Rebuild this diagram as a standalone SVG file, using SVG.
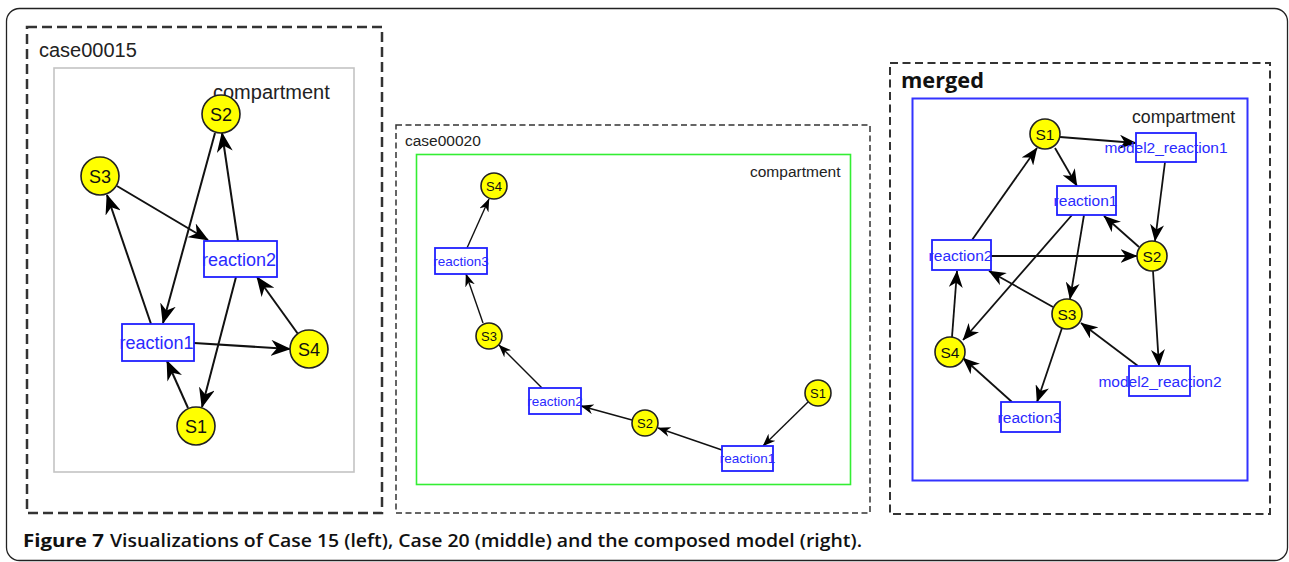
<svg xmlns="http://www.w3.org/2000/svg" width="1289" height="562" viewBox="0 0 1289 562">
<style>
.frame{fill:none;stroke:#222;stroke-width:1.3}
.dashL{fill:none;stroke:#333;stroke-width:2.5;stroke-dasharray:10 5}
.dashM{fill:none;stroke:#333;stroke-width:1.5;stroke-dasharray:6 3.5}
.dashR{fill:none;stroke:#333;stroke-width:2;stroke-dasharray:8 4.5}
.sp{fill:#ffff00;stroke:#222;stroke-width:1.6}
.rx{fill:#fff;stroke:#2020ff;stroke-width:1.8}
.lbl{font-family:"Liberation Sans",Arial,sans-serif;text-anchor:middle;fill:#111}
.rl{font-family:"Liberation Sans",Arial,sans-serif;text-anchor:middle;fill:#2a2aff}
.ttl{font-family:"Liberation Sans",Arial,sans-serif;fill:#222}
.eL{stroke:#111;stroke-width:2;fill:none;marker-end:url(#ahL)}
.eM{stroke:#111;stroke-width:1.4;fill:none;marker-end:url(#ahS)}
.eR{stroke:#111;stroke-width:1.8;fill:none;marker-end:url(#ahM)}
</style>
<defs>
<marker id="ahL" markerUnits="userSpaceOnUse" markerWidth="20" markerHeight="16" viewBox="0 0 20 16" refX="19" refY="8" orient="auto"><path d="M0,0 L20,8 L0,16 L6,8 z" fill="#000"/></marker>
<marker id="ahS" markerUnits="userSpaceOnUse" markerWidth="13" markerHeight="10" viewBox="0 0 13 10" refX="12.5" refY="5" orient="auto"><path d="M0,0 L13,5 L0,10 L4,5 z" fill="#000"/></marker>
<marker id="ahM" markerUnits="userSpaceOnUse" markerWidth="17" markerHeight="14" viewBox="0 0 17 14" refX="16.5" refY="7" orient="auto"><path d="M0,0 L17,7 L0,14 L5,7 z" fill="#000"/></marker>
</defs>
<rect width="1289" height="562" fill="#fff"/>
<rect class="frame" x="6.5" y="8.5" width="1281" height="552" rx="13"/>

<!-- Left panel -->
<g id="panel-case15">
<rect class="dashL" x="27" y="27" width="355" height="486"/>
<text class="ttl" x="39" y="57" font-size="20">case00015</text>
<rect x="54" y="68" width="300" height="404" fill="none" stroke="#c4c4c4" stroke-width="1.6"/>
<text class="ttl" x="213" y="99" font-size="20" fill="#111">compartment</text>
</g>
<g id="connectors-case15">
<line class="eL" x1="215" y1="133" x2="163" y2="323"/>
<line class="eL" x1="238" y1="241" x2="222" y2="133"/>
<line class="eL" x1="117" y1="186" x2="208" y2="240"/>
<line class="eL" x1="151" y1="324" x2="107" y2="195"/>
<line class="eL" x1="194" y1="343" x2="290" y2="349"/>
<line class="eL" x1="298" y1="334" x2="257" y2="277"/>
<line class="eL" x1="236" y1="277" x2="202" y2="407"/>
<line class="eL" x1="188" y1="408" x2="167" y2="361"/>
</g>
<g id="L-S2"><circle class="sp" cx="221" cy="114" r="19"/><text class="lbl" x="221" y="120.5" font-size="18">S2</text></g>
<g id="L-S3"><circle class="sp" cx="100" cy="176" r="19"/><text class="lbl" x="100" y="182.5" font-size="18">S3</text></g>
<g id="L-reaction2"><rect class="rx" x="204" y="241" width="73" height="36"/><text class="rl" x="239" y="265.5" font-size="18">reaction2</text></g>
<g id="L-reaction1"><rect class="rx" x="122" y="324" width="72" height="37"/><text class="rl" x="156.5" y="349" font-size="18">reaction1</text></g>
<g id="L-S4"><circle class="sp" cx="309" cy="349" r="19"/><text class="lbl" x="309" y="355.5" font-size="18">S4</text></g>
<g id="L-S1"><circle class="sp" cx="196" cy="426" r="19"/><text class="lbl" x="196" y="432.5" font-size="18">S1</text></g>

<!-- Middle panel -->
<g id="panel-case20">
<rect class="dashM" x="396" y="125" width="474" height="388"/>
<text class="ttl" x="405" y="146" font-size="15.5">case00020</text>
<rect x="416.5" y="154.5" width="434" height="330" fill="none" stroke="#33ee33" stroke-width="1.6"/>
<text class="ttl" x="750" y="177" font-size="15.5" fill="#111">compartment</text>
</g>
<g id="connectors-case20">
<line class="eM" x1="467" y1="248" x2="489" y2="199"/>
<line class="eM" x1="483" y1="323" x2="466" y2="274"/>
<line class="eM" x1="542" y1="388" x2="499" y2="345"/>
<line class="eM" x1="632" y1="420" x2="581" y2="406"/>
<line class="eM" x1="722" y1="450" x2="658" y2="428"/>
<line class="eM" x1="808" y1="402" x2="763" y2="446"/>
</g>
<g id="M-S4"><circle class="sp" cx="494" cy="186" r="13"/><text class="lbl" x="494" y="190.5" font-size="13">S4</text></g>
<g id="M-reaction3"><rect class="rx" x="435" y="248" width="52" height="26" stroke-width="1.5"/><text class="rl" x="461" y="265.5" font-size="13.5">reaction3</text></g>
<g id="M-S3"><circle class="sp" cx="489" cy="336" r="13"/><text class="lbl" x="489" y="340.5" font-size="13">S3</text></g>
<g id="M-reaction2"><rect class="rx" x="529" y="388" width="52" height="26" stroke-width="1.5"/><text class="rl" x="555" y="405.5" font-size="13.5">reaction2</text></g>
<g id="M-S2"><circle class="sp" cx="645" cy="423" r="13"/><text class="lbl" x="645" y="427.5" font-size="13">S2</text></g>
<g id="M-reaction1"><rect class="rx" x="722" y="446" width="51" height="25" stroke-width="1.5"/><text class="rl" x="747.5" y="463" font-size="13.5">reaction1</text></g>
<g id="M-S1"><circle class="sp" cx="818" cy="393" r="13"/><text class="lbl" x="818" y="397.5" font-size="13">S1</text></g>

<!-- Right panel -->
<g id="panel-merged">
<rect class="dashR" x="890" y="63" width="380" height="451"/>
<text x="901" y="88" font-family="'Open Sans','Liberation Sans',sans-serif" font-weight="700" font-size="22" fill="#111" textLength="83" lengthAdjust="spacingAndGlyphs">merged</text>
<rect x="912.5" y="98.5" width="335" height="382" fill="none" stroke="#3333ff" stroke-width="2"/>
<text class="ttl" x="1132" y="123" font-size="17.7" fill="#111">compartment</text>
</g>
<g id="connectors-merged">
<line class="eR" x1="1060" y1="137" x2="1136" y2="143"/>
<line class="eR" x1="1055" y1="148" x2="1077" y2="186"/>
<line class="eR" x1="1165" y1="162" x2="1155" y2="241"/>
<line class="eR" x1="1139" y1="247" x2="1104" y2="216"/>
<line class="eR" x1="991" y1="256" x2="1137" y2="256"/>
<line class="eR" x1="972" y1="240" x2="1037" y2="148"/>
<line class="eR" x1="1072" y1="215" x2="963" y2="340"/>
<line class="eR" x1="1084" y1="215" x2="1070" y2="299"/>
<line class="eR" x1="1053" y1="307" x2="989" y2="271"/>
<line class="eR" x1="952" y1="337" x2="957" y2="271"/>
<line class="eR" x1="1062" y1="328" x2="1037" y2="402"/>
<line class="eR" x1="1138" y1="366" x2="1081" y2="323"/>
<line class="eR" x1="1012" y1="402" x2="963" y2="358"/>
<line class="eR" x1="1153" y1="271" x2="1159" y2="366"/>
</g>
<g id="R-S1"><circle class="sp" cx="1045" cy="134" r="15"/><text class="lbl" x="1045" y="139.5" font-size="15.5">S1</text></g>
<g id="R-model2_reaction1"><rect class="rx" x="1136" y="133" width="60" height="29"/><text class="rl" x="1166" y="153" font-size="15.5">model2_reaction1</text></g>
<g id="R-reaction1"><rect class="rx" x="1057" y="186" width="59" height="29"/><text class="rl" x="1085.5" y="206" font-size="15.5">reaction1</text></g>
<g id="R-reaction2"><rect class="rx" x="932" y="240" width="59" height="30"/><text class="rl" x="960.5" y="260.5" font-size="15.5">reaction2</text></g>
<g id="R-S2"><circle class="sp" cx="1152" cy="256" r="15"/><text class="lbl" x="1152" y="261.5" font-size="15.5">S2</text></g>
<g id="R-S3"><circle class="sp" cx="1067" cy="314" r="15"/><text class="lbl" x="1067" y="319.5" font-size="15.5">S3</text></g>
<g id="R-S4"><circle class="sp" cx="950" cy="352" r="15"/><text class="lbl" x="950" y="357.5" font-size="15.5">S4</text></g>
<g id="R-model2_reaction2"><rect class="rx" x="1129" y="366" width="61" height="30"/><text class="rl" x="1160" y="386.5" font-size="15.5">model2_reaction2</text></g>
<g id="R-reaction3"><rect class="rx" x="1001" y="402" width="59" height="30"/><text class="rl" x="1029.5" y="422.5" font-size="15.5">reaction3</text></g>

<!-- Caption -->
<g id="caption">
<text x="23" y="547" font-family="'Open Sans','Liberation Sans',sans-serif" font-weight="700" font-size="18.5" fill="#111" textLength="81" lengthAdjust="spacingAndGlyphs">Figure 7</text>
<text x="110" y="547" font-family="'Open Sans','Liberation Sans',sans-serif" font-weight="600" font-size="18.5" fill="#111" textLength="752" lengthAdjust="spacingAndGlyphs">Visualizations of Case 15 (left), Case 20 (middle) and the composed model (right).</text>
</g>
</svg>
